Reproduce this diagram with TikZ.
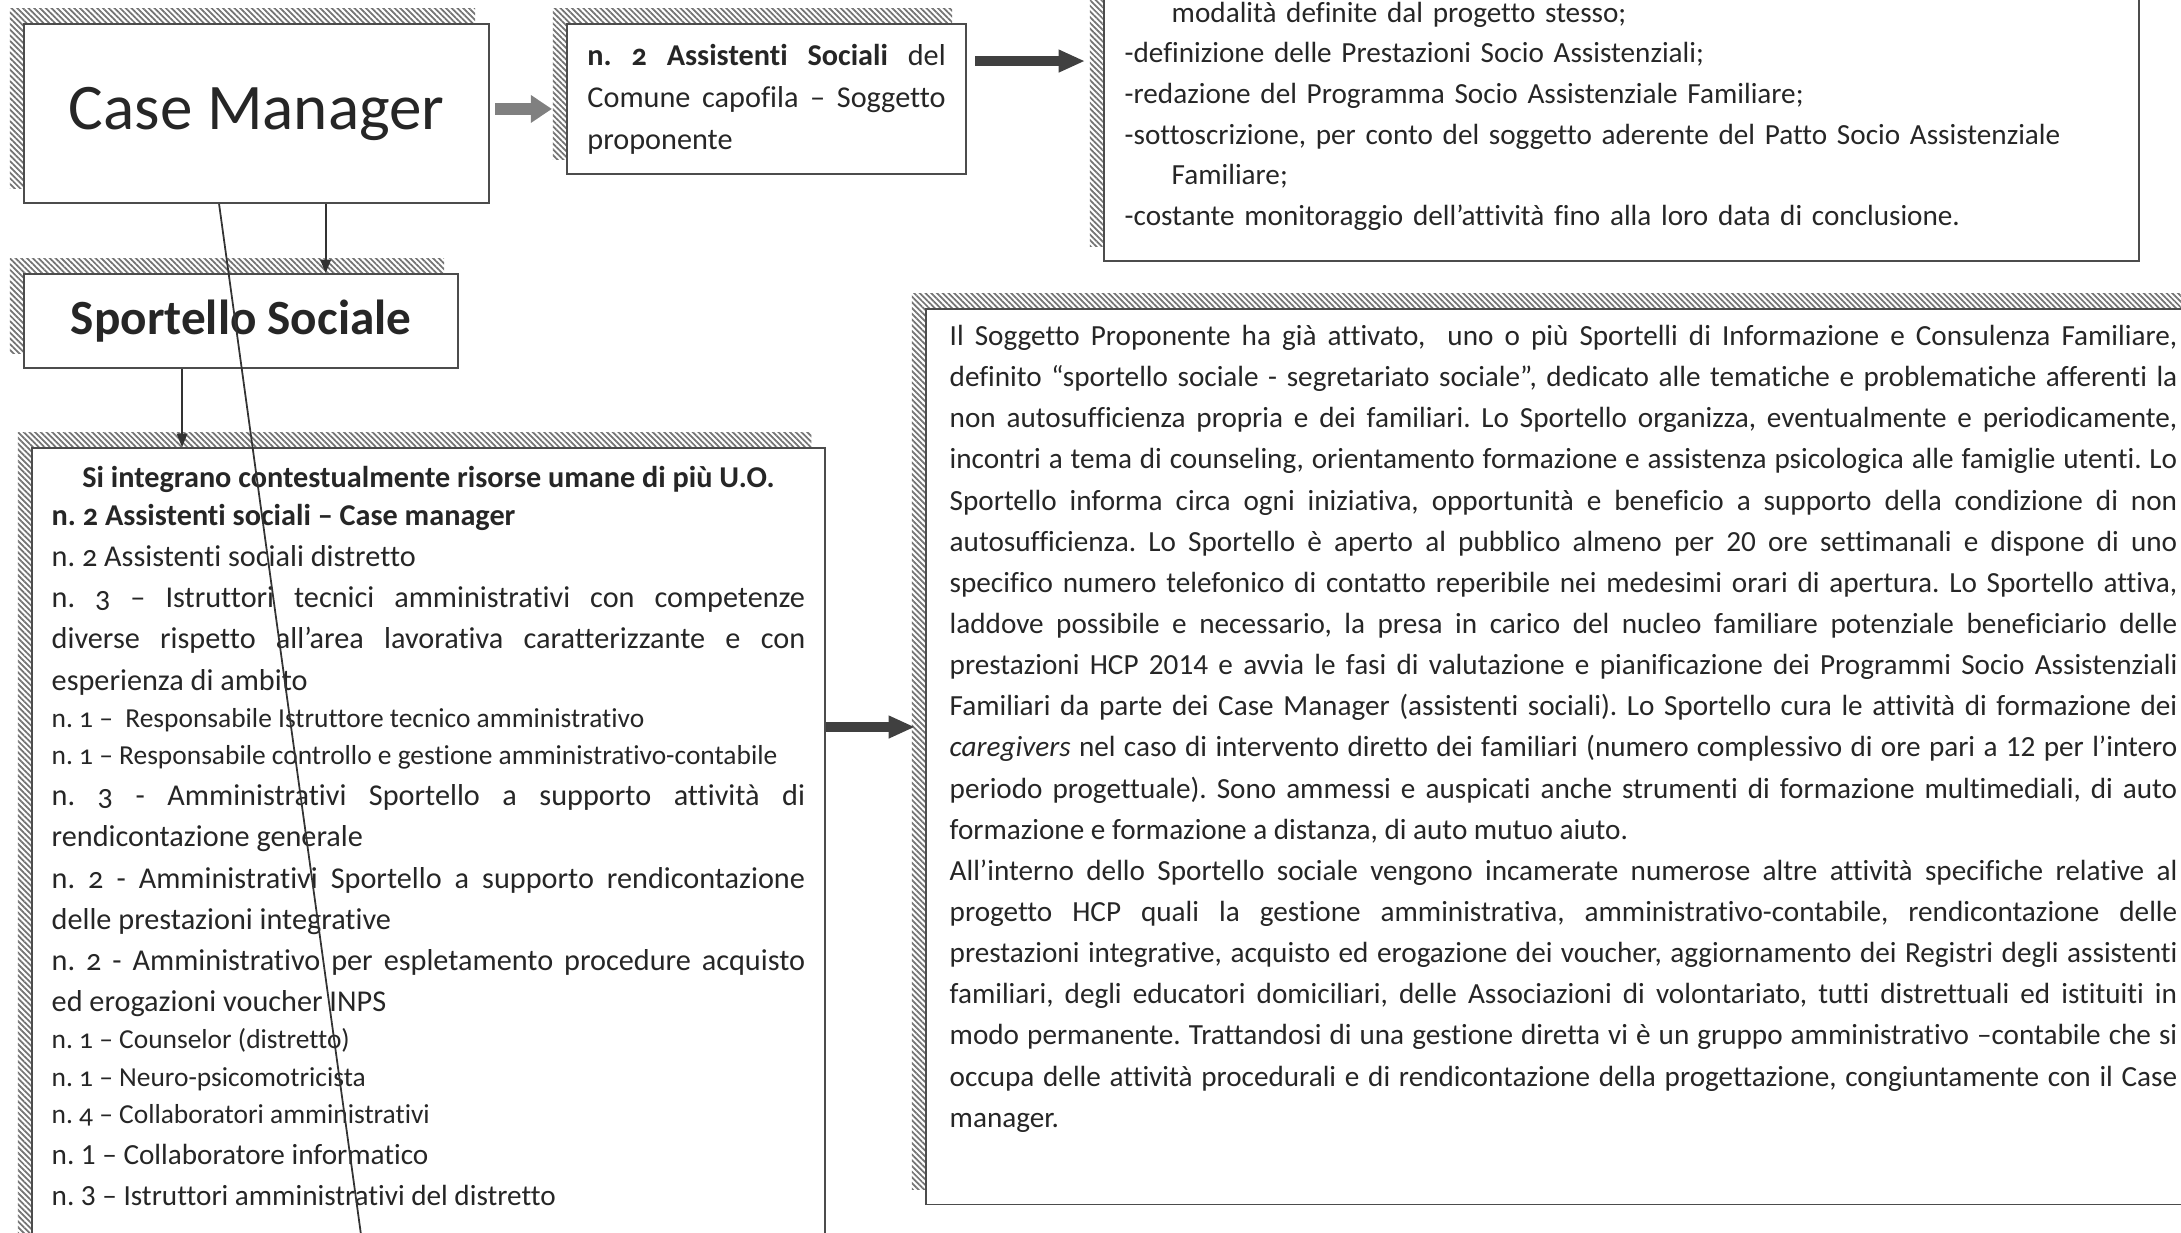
\documentclass[tikz,border=0pt]{standalone}
\usepackage{fontspec}
\setmainfont{Carlito}[Ligatures={NoCommon}]
\newfontfamily\oldfig{Carlito}[Numbers=OldStyle, Ligatures={NoCommon}]
\setlength{\parindent}{0pt}
\frenchspacing
\usetikzlibrary {arrows.meta}
\usetikzlibrary {patterns.meta}
\usetikzlibrary {shadows}
\usetikzlibrary {calc}

\begin{document}
\begin{tikzpicture} [
        x=0.01cm, y=-0.01cm,
        box/.style={draw=black!70, line width=0.55pt, fill=white, rectangle, inner sep=0pt, anchor=north west, text=black!85,
            general shadow={draw=none, pattern={Lines[angle=-45, distance=1.15pt, line width=0.5pt]}, pattern color=black!55,
                shadow xshift=-0.14cm, shadow yshift=0.15cm}},
        txt/.style={inner sep=0pt, anchor=north west, text=black!85, align=justify},
        grayarrow/.style={-{Triangle[length=6pt, width=7.5pt]}, line width=3.6pt, draw=black!50},
        fatarrow/.style={-{Triangle[length=7.5pt, width=6pt]}, line width=2.8pt, draw=black!75},
        thinarrow/.style={-{Triangle[length=3.8pt, width=3pt]}, line width=0.5pt, draw=black!80},
        strayline/.style={line width=0.5pt, draw=black!80} ]
    \useasboundingbox (0,0) rectangle (2181,1232);
    \node[box, minimum width=4.65cm, minimum height=1.79cm, font=\fontsize{18.5}{22}\selectfont] (cm) at (23,23) {Case Manager};
    \node[box, minimum width=3.99cm, minimum height=1.5cm, text width=3.58cm, align=justify, font=\oldfig\fontsize{8.6}{11.9}\selectfont] (as) at (566,23)
        {\textbf{n. 2 Assistenti Sociali} del\linebreak Comune capofila – Soggetto\linebreak proponente};
    \node[box, minimum width=10.34cm, minimum height=3.2cm] (tr) at (1103,-60) {};
    \node[box, minimum width=4.34cm, minimum height=0.94cm, font=\fontsize{14}{17}\selectfont\bfseries] (ss) at (23,273) {Sportello Sociale};
    \node[box, minimum width=7.93cm, minimum height=8.53cm] (lb) at (31,447) {};
    \node[box, minimum width=13.35cm, minimum height=8.95cm] (rb) at (925,308) {};

    \node[txt, text width=10cm, align=left, font=\fontsize{8.3}{11.56}\selectfont] (trtext) at ([shift={(21,53)}]tr.north west)
        {\strut\hspace*{0.47cm}modalità definite dal progetto stesso;\\
         -definizione delle Prestazioni Socio Assistenziali;\\
         -redazione del Programma Socio Assistenziale Familiare;\\
         -sottoscrizione, per conto del soggetto aderente del Patto Socio Assistenziale\\
         \hspace*{0.47cm}Familiare;\\
         -costante monitoraggio dell’attività fino alla loro data di conclusione.};
    \node[txt, text width=7.53cm, font=\oldfig\fontsize{8.6}{11.7}\selectfont] (lbtext) at ([shift={(20,11)}]lb.north west)
        {{\centering\bfseries\strut Si integrano contestualmente risorse umane di più U.O.\par}
         {\fontsize{8.6}{10.8}\selectfont\bfseries n. 2 Assistenti sociali – Case manager\par}
         n. 2 Assistenti sociali distretto\par
         n. 3 – Istruttori tecnici amministrativi con competenze\linebreak
         diverse rispetto all’area lavorativa caratterizzante e con\linebreak
         esperienza di ambito\par
         {\fontsize{7.8}{10.6}\selectfont n. 1 – \ Responsabile Istruttore tecnico amministrativo\par}
         {\fontsize{7.8}{10.6}\selectfont n. 1 – Responsabile controllo e gestione amministrativo-contabile\par}
         n. 3 - Amministrativi Sportello a supporto attività di\linebreak
         rendicontazione generale\par
         n. 2 - Amministrativi Sportello a supporto rendicontazione\linebreak
         delle prestazioni integrative\par
         n. 2 - Amministrativo per espletamento procedure acquisto\linebreak
         ed erogazioni voucher INPS\par
         {\fontsize{7.8}{10.6}\selectfont n. 1 – Counselor (distretto)\par}
         {\fontsize{7.8}{10.6}\selectfont n. 1 – Neuro-psicomotricista\par}
         {\fontsize{7.8}{10.6}\selectfont n. 4 – Collaboratori amministrativi\par}
         {\normalfont\fontsize{8.3}{11.7}\selectfont n. 1 – Collaboratore informatico\par}
         {\normalfont\fontsize{8.3}{11.7}\selectfont n. 3 – Istruttori amministrativi del distretto\par}};
    \node[txt, text width=12.27cm, font=\fontsize{8.3}{11.7}\selectfont] (rbtext) at ([shift={(24,8)}]rb.north west)
        {\strut Il Soggetto Proponente ha già attivato, \ uno o più Sportelli di Informazione e Consulenza Familiare,\linebreak
         definito “sportello sociale - segretariato sociale”, dedicato alle tematiche e problematiche afferenti la\linebreak
         non autosufficienza propria e dei familiari. Lo Sportello organizza, eventualmente e periodicamente,\linebreak
         incontri a tema di counseling, orientamento formazione e assistenza psicologica alle famiglie utenti. Lo\linebreak
         Sportello informa circa ogni iniziativa, opportunità e beneficio a supporto della condizione di non\linebreak
         autosufficienza. Lo Sportello è aperto al pubblico almeno per 20 ore settimanali e dispone di uno\linebreak
         specifico numero telefonico di contatto reperibile nei medesimi orari di apertura. Lo Sportello attiva,\linebreak
         laddove possibile e necessario, la presa in carico del nucleo familiare potenziale beneficiario delle\linebreak
         prestazioni HCP 2014 e avvia le fasi di valutazione e pianificazione dei Programmi Socio Assistenziali\linebreak
         Familiari da parte dei Case Manager (assistenti sociali). Lo Sportello cura le attività di formazione dei\linebreak
         \textit{caregivers} nel caso di intervento diretto dei familiari (numero complessivo di ore pari a 12 per l’intero\linebreak
         periodo progettuale). Sono ammessi e auspicati anche strumenti di formazione multimediali, di auto\linebreak
         formazione e formazione a distanza, di auto mutuo aiuto.\par
         All’interno dello Sportello sociale vengono incamerate numerose altre attività specifiche relative al\linebreak
         progetto HCP quali la gestione amministrativa, amministrativo-contabile, rendicontazione delle\linebreak
         prestazioni integrative, acquisto ed erogazione dei voucher, aggiornamento dei Registri degli assistenti\linebreak
         familiari, degli educatori domiciliari, delle Associazioni di volontariato, tutti distrettuali ed istituiti in\linebreak
         modo permanente. Trattandosi di una gestione diretta vi è un gruppo amministrativo –contabile che si\linebreak
         occupa delle attività procedurali e di rendicontazione della progettazione, congiuntamente con il Case\linebreak
         manager.};

    \coordinate (cmout) at ([yshift=1.3pt]cm.east);
    \draw[grayarrow, shorten <=0.05cm, shorten >=0.14cm] (cmout) -- (cmout -| as.west);
    \coordinate (asout) at ([yshift=10.8pt]as.east);
    \draw[fatarrow, shorten <=0.08cm, shorten >=0.18cm] (asout) -- (asout -| tr.west);
    \coordinate (lbout) at ($(lb.north east)+(0,280)$);
    \draw[fatarrow, shorten >=0.1cm] (lbout) -- (lbout -| rb.west);
    \coordinate (cmdown) at ([xshift=0.69cm]cm.south);
    \draw[thinarrow] (cmdown) -- (cmdown |- ss.north);
    \coordinate (ssdown) at ([xshift=-0.59cm]ss.south);
    \draw[thinarrow] (ssdown) -- (ssdown |- lb.north);
    \coordinate (cmline) at ([xshift=-0.375cm]cm.south);
    \coordinate (strayend) at (370,1300);
    \draw[strayline] (cmline) -- (strayend);
\end{tikzpicture}
\end{document}
